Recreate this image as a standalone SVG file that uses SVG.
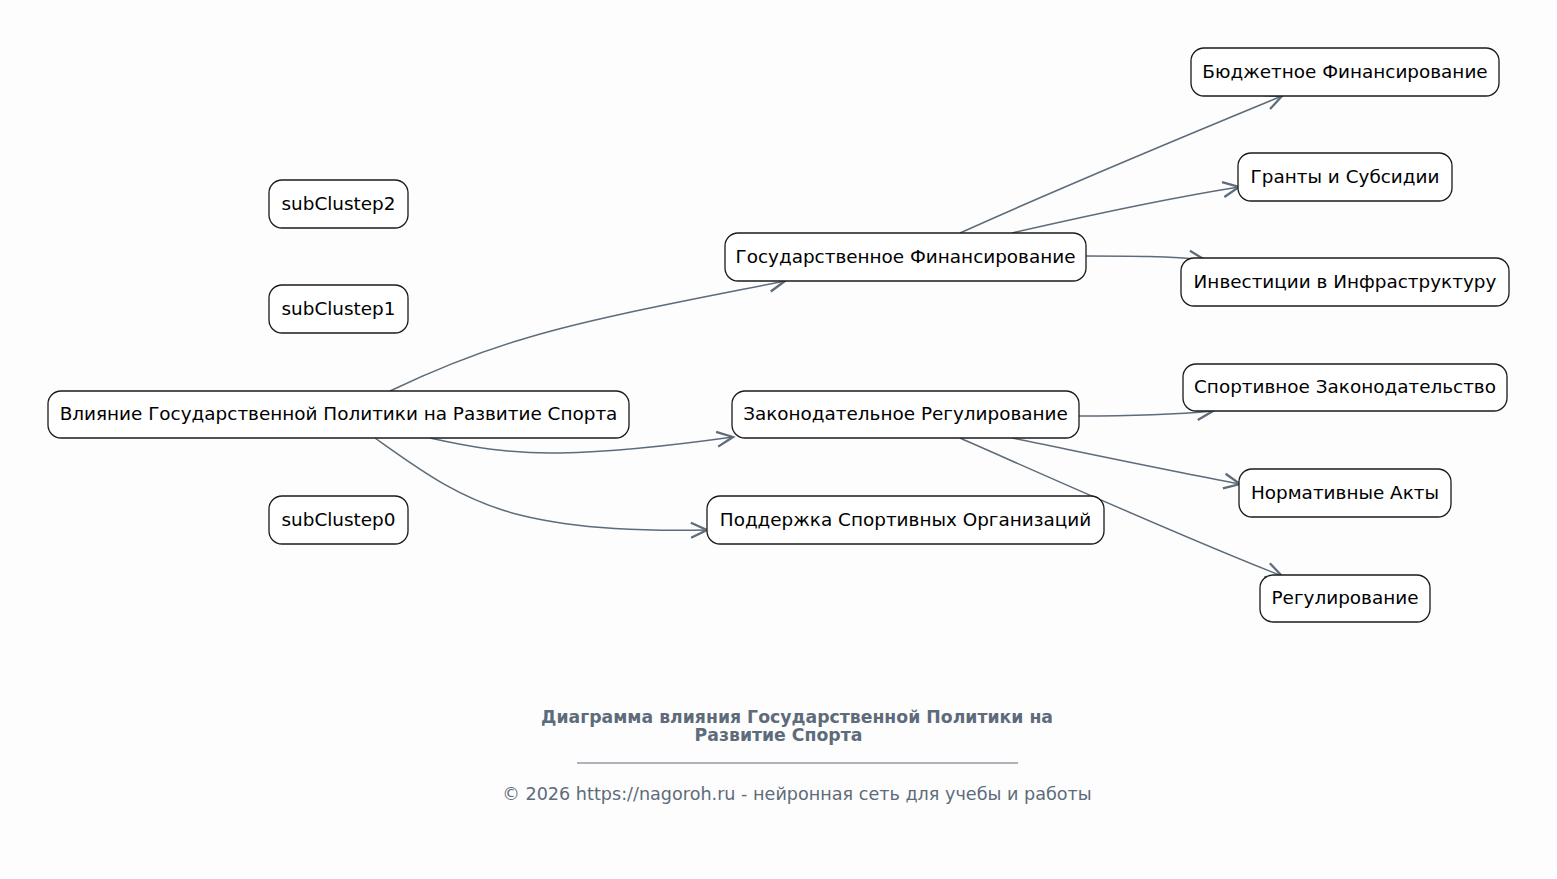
<svg xmlns="http://www.w3.org/2000/svg" width="1557" height="879" viewBox="0 0 1557 879">
<style>
.n rect{fill:#ffffff;stroke:#1a1a1a;stroke-width:1.3}
.n text{font-family:"DejaVu Sans",sans-serif;font-size:18.4px;fill:#000;text-anchor:middle;dominant-baseline:central}
.e path{fill:none;stroke:#5d6b7a;stroke-width:1.5;marker-end:url(#arr)}
.ft{font-family:"DejaVu Sans",sans-serif;fill:#5d6b7a;text-anchor:middle}
</style>
<defs>
<marker id="arr" markerUnits="userSpaceOnUse" markerWidth="22" markerHeight="22" refX="18" refY="9" orient="auto">
<path d="M2,1.5 L18,9 L2,16.5" fill="none" stroke="#5d6b7a" stroke-width="2.3"/>
</marker>
</defs>
<rect width="1557" height="879" fill="#fdfdfd"/>
<g id="connectors" class="e">
<path d="M390,391 C430,372 470,355 520,340 C590,318 700,298 785,281"/>
<path d="M430,438 C470,447 510,454 560,453 C620,452 690,443 733,437"/>
<path d="M375,438 C420,470 460,500 520,515 C580,530 650,531 707,530"/>
<path d="M960,233 C1060,188 1180,138 1282,96"/>
<path d="M1012,233 C1090,215 1170,198 1239,187"/>
<path d="M1086,256 C1130,256 1170,256 1205,260"/>
<path d="M1079,416 C1130,416 1170,415 1213,411"/>
<path d="M1012,438 C1090,454 1170,471 1240,484"/>
<path d="M960,438 C1060,482 1180,536 1282,576"/>
</g>
<g id="main" class="n"><rect x="48" y="391" width="581" height="47" rx="13"/><text x="338.5" y="413.5">Влияние Государственной Политики на Развитие Спорта</text></g>
<g id="sub2" class="n"><rect x="269" y="180" width="139" height="48" rx="13"/><text x="338.5" y="203">subClustep2</text></g>
<g id="sub1" class="n"><rect x="269" y="285" width="139" height="48" rx="13"/><text x="338.5" y="308">subClustep1</text></g>
<g id="sub0" class="n"><rect x="269" y="496" width="139" height="48" rx="13"/><text x="338.5" y="519">subClustep0</text></g>
<g id="gosfin" class="n"><rect x="725" y="233" width="361" height="48" rx="13"/><text x="905.5" y="256">Государственное Финансирование</text></g>
<g id="zakon" class="n"><rect x="732" y="391" width="347" height="47" rx="13"/><text x="905.5" y="413.5">Законодательное Регулирование</text></g>
<g id="podderzhka" class="n"><rect x="707" y="496" width="397" height="48" rx="13"/><text x="905.5" y="519">Поддержка Спортивных Организаций</text></g>
<g id="budget" class="n"><rect x="1191" y="48" width="308" height="48" rx="13"/><text x="1345" y="71">Бюджетное Финансирование</text></g>
<g id="granty" class="n"><rect x="1238" y="153" width="214" height="48" rx="13"/><text x="1345" y="176">Гранты и Субсидии</text></g>
<g id="invest" class="n"><rect x="1181" y="258" width="328" height="48" rx="13"/><text x="1345" y="281">Инвестиции в Инфраструктуру</text></g>
<g id="sportzak" class="n"><rect x="1183" y="364" width="324" height="47" rx="13"/><text x="1345" y="386.5">Спортивное Законодательство</text></g>
<g id="normakty" class="n"><rect x="1239" y="469" width="212" height="48" rx="13"/><text x="1345" y="492">Нормативные Акты</text></g>
<g id="regul" class="n"><rect x="1260" y="575" width="170" height="47" rx="13"/><text x="1345" y="597.5">Регулирование</text></g>
<g id="footer">
<text class="ft" x="797" y="723" font-size="17.3" font-weight="bold">Диаграмма влияния Государственной Политики на</text>
<text class="ft" x="778.5" y="741" font-size="17.3" font-weight="bold">Развитие Спорта</text>
<line x1="577" y1="763" x2="1018" y2="763" stroke="#5d6b7a" stroke-width="1"/>
<text class="ft" x="797" y="800" font-size="17.6">© 2026 https://nagoroh.ru - нейронная сеть для учебы и работы</text>
</g>
</svg>
